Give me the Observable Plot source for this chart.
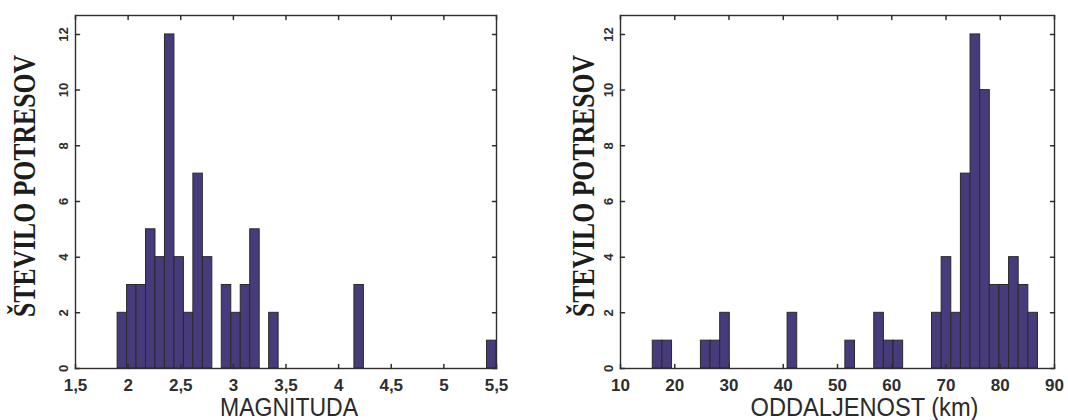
<!DOCTYPE html>
<html><head><meta charset="utf-8">
<script src="https://cdn.jsdelivr.net/npm/d3@7"></script>
<script src="https://cdn.jsdelivr.net/npm/@observablehq/plot@0.6"></script>
<style>
body{margin:0;background:#fff;}
#wrap{display:flex;width:1068px;height:420px;overflow:hidden;}
</style></head><body><div id="wrap"></div>
<script>
// ---- Data ----
// Magnitude histogram: 40 bins from 1.9 to 5.5
const magBinStart = 1.9;
const magBinWidth = 0.09;
const magCounts = [2,3,3,5,4,12,4,2,7,4, 0,3,2,3,5,0,2,0,0,0, 0,0,0,0,0,3,0,0,0,0, 0,0,0,0,0,0,0,0,0,1];
const magTicks = [1.5,2,2.5,3,3.5,4,4.5,5,5.5];
const magTickLabels = ["1,5","2","2,5","3","3,5","4","4,5","5","5,5"];
const magLabel = "MAGNITUDA";

// Distance histogram: 40 bins from ~15.95 to ~86.95 km
const distBinStart = 15.95;
const distBinWidth = 1.775;
const distCounts = [1,1,0,0,0,1,1,2,0,0, 0,0,0,0,2,0,0,0,0,0, 1,0,0,2,1,1,0,0,0,2, 4,2,7,12,10,3,3,4,3,2];
const distTicks = [10,20,30,40,50,60,70,80,90];
const distTickLabels = ["10","20","30","40","50","60","70","80","90"];
const distLabel = "ODDALJENOST (km)";

const yTicks = [0,2,4,6,8,10,12];
const yTickLabels = ["0","2","4","6","8","10","12"];
const yLabel = "ŠTEVILO POTRESOV";

const BAR = "#473b7c";
const INK = "#2e2e2e";
const tickShape = {draw(ctx, l){ ctx.moveTo(0,0); ctx.lineTo(0,-l); }};

function hist(o) {
  const bins = o.counts.map((c,i)=>({x1: o.start + i*o.width, x2: o.start + (i+1)*o.width, count: c}));
  const xf = new Map(o.xTicks.map((t,i)=>[t, o.xTickLabels[i]]));
  const yf = new Map(yTicks.map((t,i)=>[t, yTickLabels[i]]));
  const svg = Plot.plot({
    width: 534, height: 420,
    marginLeft: o.marginLeft, marginRight: o.marginRight, marginTop: 15, marginBottom: 52,
    style: {fontFamily: "'Liberation Sans', Arial, sans-serif", color: INK, background: "#fff", overflow: "visible"},
    x: {domain: o.xDomain},
    y: {domain: [0, 12.68]},
    marks: [
      Plot.ruleY([0], {stroke: INK, strokeWidth: 1}),
      Plot.rectY(bins.filter(d=>d.count>0), {x1:"x1", x2:"x2", y:"count", fill: BAR, stroke: "#2a2a2a", strokeWidth: 1}),
      Plot.axisX(o.xTicks, {anchor:"bottom", tickSize:0, tickPadding: 10, tickFormat: d=>xf.get(d), fontSize: 17, fontWeight: "bold", label: o.xLabel, labelAnchor:"center", labelOffset: 47, labelArrow:"none"}),
      Plot.axisY(yTicks, {anchor:"left", tickSize:0, tickPadding: 8, tickRotate:-90, tickFormat: d=>yf.get(d), fontSize: 13, fontWeight:"bold", label: yLabel, labelAnchor:"center", labelOffset: o.yLabelOffset, labelArrow:"none"}),
      Plot.vector(o.xTicks, {x: d=>d, frameAnchor:"bottom", length: 4, rotate: 0, anchor:"start", shape: tickShape, stroke: INK}),
      Plot.vector(o.xTicks, {x: d=>d, frameAnchor:"top", length: 4, rotate: 180, anchor:"start", shape: tickShape, stroke: INK}),
      Plot.vector(yTicks, {y: d=>d, frameAnchor:"left", length: 4, rotate: 90, anchor:"start", shape: tickShape, stroke: INK}),
      Plot.vector(yTicks, {y: d=>d, frameAnchor:"right", length: 4, rotate: -90, anchor:"start", shape: tickShape, stroke: INK}),
      Plot.frame({stroke: INK, strokeWidth: 1.4})
    ]
  });
  const s = d3.select(svg);
  s.select('g[aria-label="y-axis label"] text')
    .attr("font-size", 31).attr("font-weight", "bold")
    .attr("font-family", "'Liberation Serif', 'Times New Roman', serif")
    .attr("textLength", 262).attr("lengthAdjust", "spacingAndGlyphs")
    .attr("x", 6).attr("fill", "#1c1c1c");
  s.select('g[aria-label="x-axis label"] text')
    .attr("font-size", 25).attr("font-weight", "normal")
    .attr("textLength", o.xLabelLength).attr("lengthAdjust", "spacingAndGlyphs")
    .attr("dx", o.xLabelDx).attr("fill", "#2a2a2a");
  return svg;
}

const wrap = document.getElementById("wrap");
wrap.appendChild(hist({counts: magCounts, start: magBinStart, width: magBinWidth, xDomain: [1.5, 5.5],
  xTicks: magTicks, xTickLabels: magTickLabels, xLabel: magLabel,
  marginLeft: 75, marginRight: 38, yLabelOffset: 63, xLabelLength: 138, xLabelDx: 3}));
wrap.appendChild(hist({counts: distCounts, start: distBinStart, width: distBinWidth, xDomain: [10, 90],
  xTicks: distTicks, xTickLabels: distTickLabels, xLabel: distLabel,
  marginLeft: 86, marginRight: 14, yLabelOffset: 49, xLabelLength: 228, xLabelDx: 27}));
</script>
</body></html>
